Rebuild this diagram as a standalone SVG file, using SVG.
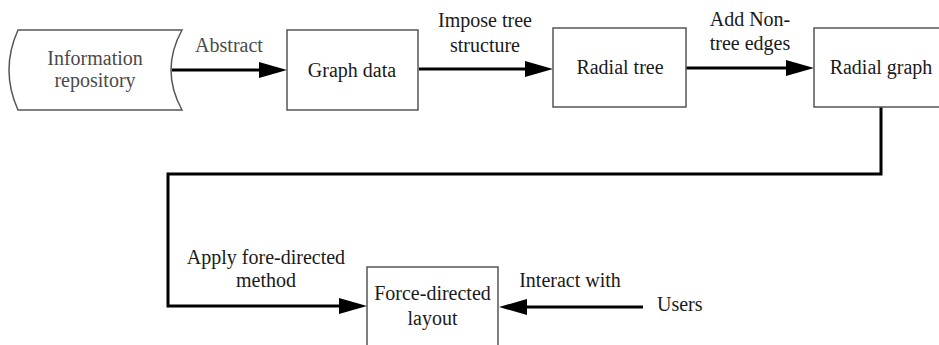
<svg xmlns="http://www.w3.org/2000/svg" width="939" height="345" viewBox="0 0 939 345">
<defs>
<style>
text{font-family:'Liberation Serif','Times New Roman','DejaVu Serif',serif;font-size:20px;fill:#1a1a1a;text-anchor:middle}
.box{fill:#fff;stroke:#555;stroke-width:1.5}
.g{fill:#4a4a4a}
.c{fill:none;stroke:#000;stroke-width:3}
</style>
<marker id="ah" viewBox="0 0 28 16" refX="8" refY="8" markerWidth="28" markerHeight="16" markerUnits="userSpaceOnUse" orient="auto">
<path d="M0,0 L28,8 L0,16 Z" fill="#000"/>
</marker>
</defs>
<rect width="939" height="345" fill="#fff"/>
<g id="connectors">
<path class="c" d="M172,70 L267,70" marker-end="url(#ah)"/>
<path class="c" d="M419,69 L533,69" marker-end="url(#ah)"/>
<path class="c" d="M686,68 L794,68" marker-end="url(#ah)"/>
<path class="c" d="M881,107 L881,174 L168,174 L168,306 L347,306" marker-end="url(#ah)"/>
<path class="c" d="M643,307 L519,307" marker-end="url(#ah)"/>
</g>
<g id="labels" font-family="Liberation Serif, serif">
<text class="g" x="229" y="52">Abstract</text>
<text x="485" y="27">Impose tree</text>
<text x="485" y="52">structure</text>
<text x="750" y="26">Add Non-</text>
<text x="750" y="50">tree edges</text>
<text x="266" y="264">Apply fore-directed</text>
<text x="266" y="287">method</text>
<text x="570" y="287">Interact with</text>
</g>
<g id="info-repository">
<path class="box" d="M18,30 L182,30 Q160,70 182,110 L18,110 Q0,70 18,30 Z"/>
<text class="g" x="95" y="65">Information</text>
<text class="g" x="95" y="87">repository</text>
</g>
<g id="graph-data">
<rect class="box" x="287" y="30" width="131" height="80"/>
<text x="352" y="77">Graph data</text>
</g>
<g id="radial-tree">
<rect class="box" x="553" y="28" width="133" height="79"/>
<text x="620" y="74">Radial tree</text>
</g>
<g id="radial-graph">
<rect class="box" x="814" y="28" width="140" height="79"/>
<text x="881" y="74">Radial graph</text>
</g>
<g id="force-directed-layout">
<rect class="box" x="367" y="267" width="131" height="100"/>
<text x="432.5" y="300">Force-directed</text>
<text x="432.5" y="325">layout</text>
</g>
<g id="users">
<text x="657" y="311" style="text-anchor:start">Users</text>
</g>
</svg>
